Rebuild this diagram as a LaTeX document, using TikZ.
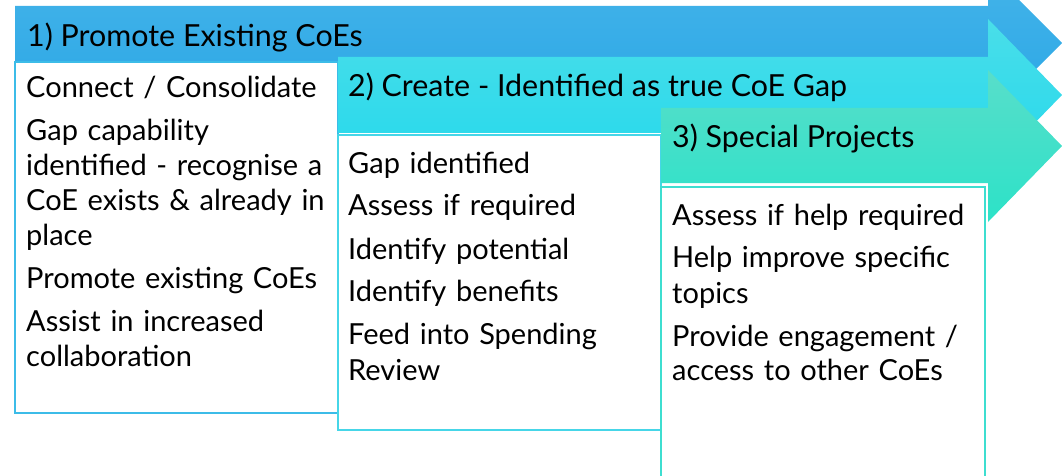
\documentclass[tikz,border=0pt]{standalone}
\usepackage{xcolor}
\usepackage{fontspec}
\setmainfont{Lato}
\usepackage{tikz}
\usetikzlibrary{positioning}

\definecolor{promotetop}{RGB}{68,180,233}
\definecolor{promotebot}{RGB}{42,166,230}
\definecolor{promoteline}{RGB}{60,188,232}
\definecolor{createtop}{RGB}{74,222,233}
\definecolor{createbot}{RGB}{36,216,236}
\definecolor{createline}{RGB}{70,214,232}
\definecolor{specialtop}{RGB}{88,222,202}
\definecolor{specialbot}{RGB}{44,226,200}
\definecolor{specialline}{RGB}{62,222,208}

\tikzset{
    stagehead/.style={font=\fontsize{30.4}{36}\selectfont, anchor=base west, inner sep=0pt},
    stagetext/.style={font=\fontsize{29}{35}\selectfont, anchor=base west, inner sep=0pt, text width=330pt, align=left},
    stagebox/.style={fill=white, line width=1.5pt}
}

\begin{document}
\begin{tikzpicture}[x=1pt, y=-1pt]
    \useasboundingbox (0,0) rectangle (1063,476);
    \clip (0,0) rectangle (1063,476);

    % 1) Promote arrow and its box
    \shade[top color=promotetop, bottom color=promotebot]
        (15,6) -- (988,6) -- (988,-31) -- (1062,43) -- (988,117) -- (988,80) -- (15,80) -- cycle;
    \node[stagehead] (promote) at (27,47) {1) Promote Existing CoEs};
    \draw[stagebox, draw=promoteline] (15,62) rectangle (338,413);
    \node[stagetext] (promotelist) at (26,98) {Connect / Consolidate\\[8pt]
        Gap capability\\ identified - recognise a\\ CoE exists \& already in\\ place\\[8pt]
        Promote existing CoEs\\[8pt]
        Assist in increased\\ collaboration};

    % 2) Create arrow and its box
    \shade[top color=createtop, bottom color=createbot]
        (338,57) -- (988,57) -- (988,19) -- (1062,95) -- (988,171) -- (988,133) -- (338,133) -- cycle;
    \node[stagehead] (create) at (348,97) {2) Create - Identified as true CoE Gap};
    \draw[stagebox, draw=createline] (338,135) rectangle (661,430);
    \node[stagetext] (createlist) at (348,173) {Gap identified\\[8pt]
        Assess if required\\[8pt]
        Identify potential\\[8pt]
        Identify benefits\\[8pt]
        Feed into Spending\\ Review};

    % 3) Special arrow and its box
    \shade[top color=specialtop, bottom color=specialbot]
        (661,108) -- (988,108) -- (988,70) -- (1062,146) -- (988,222) -- (988,183) -- (661,183) -- cycle;
    \node[stagehead] (special) at (672,148) {3) Special Projects};
    \draw[stagebox, draw=specialline] (661,187) rectangle (985,490);
    \node[stagetext] (speciallist) at (672,225) {Assess if help required\\[8pt]
        Help improve specific\\ topics\\[8pt]
        Provide engagement /\\ access to other CoEs};
\end{tikzpicture}
\end{document}
